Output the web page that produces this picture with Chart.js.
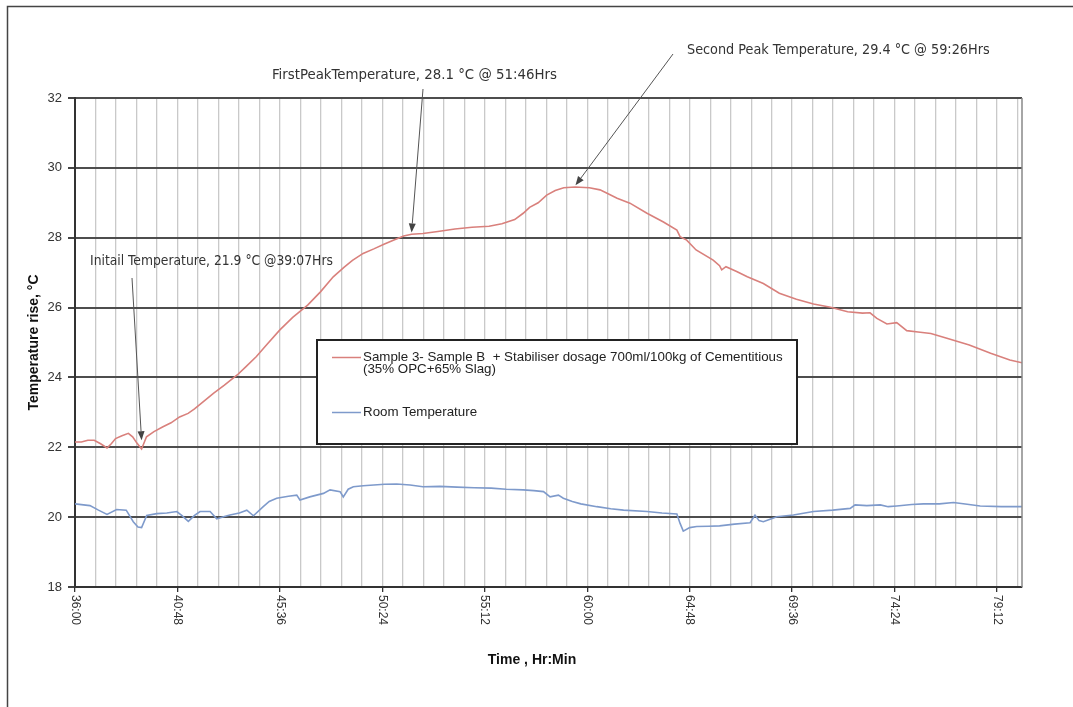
<!DOCTYPE html>
<html>
<head>
<meta charset="utf-8">
<script src="https://cdn.jsdelivr.net/npm/chart.js@4.4.1/dist/chart.umd.min.js"></script>
<style>
html,body{margin:0;padding:0;background:#fff;}
#wrap{width:1073px;height:707px;}
</style>
</head>
<body>
<div id="wrap"><canvas id="c" width="1073" height="707"></canvas></div>
<script>
// ---- data (time in hours, temperature in °C) ----
const sampleTime = [36.0,36.3,36.6,36.9,37.2,37.5,37.7,37.9,38.2,38.5,38.7,38.9,39.12,39.35,39.7,40.1,40.5,40.9,41.3,41.6,42.0,42.5,43.0,43.6,44.0,44.5,45.0,45.6,46.2,46.9,47.5,48.1,48.6,49.0,49.5,50.0,50.5,51.0,51.4,51.77,52.3,53.0,53.8,54.6,55.4,56.0,56.6,57.0,57.3,57.7,58.1,58.5,58.9,59.43,60.1,60.6,61.0,61.4,62.0,62.8,63.57,64.2,64.35,64.66,65.1,65.9,66.2,66.3,66.5,67.0,67.5,68.25,69.0,69.8,70.6,71.4,72.2,72.9,73.25,73.57,74.04,74.5,74.97,75.5,76.1,76.85,77.9,78.9,79.8,80.37];
const sampleTemp = [22.15,22.15,22.2,22.2,22.1,21.98,22.1,22.25,22.33,22.4,22.3,22.12,21.95,22.3,22.45,22.58,22.7,22.87,22.97,23.1,23.3,23.55,23.78,24.07,24.3,24.6,24.95,25.36,25.72,26.07,26.45,26.88,27.15,27.35,27.55,27.68,27.82,27.95,28.05,28.1,28.12,28.18,28.25,28.3,28.33,28.4,28.52,28.7,28.87,29.0,29.22,29.35,29.43,29.45,29.43,29.37,29.25,29.13,28.99,28.7,28.45,28.22,28.03,27.93,27.65,27.36,27.2,27.08,27.17,27.03,26.88,26.69,26.41,26.24,26.1,26.01,25.88,25.84,25.85,25.69,25.53,25.57,25.34,25.3,25.26,25.12,24.93,24.69,24.5,24.42];
const roomTime = [36.0,36.4,36.7,37.1,37.5,37.95,38.4,38.73,38.95,39.12,39.36,39.83,40.3,40.77,41.0,41.31,41.6,41.86,42.33,42.64,43.0,43.26,43.7,44.05,44.36,44.82,45.1,45.45,46.0,46.39,46.54,47.0,47.64,47.95,48.42,48.57,48.8,49.04,49.5,50.0,50.5,51.07,51.7,52.3,53.1,53.9,54.7,55.5,56.2,57.0,57.5,57.95,58.26,58.65,58.88,59.3,59.7,60.45,61.1,61.7,62.8,63.5,64.2,64.35,64.5,64.8,65.13,65.7,66.2,66.9,67.63,67.86,68.05,68.25,68.6,68.88,69.66,70.6,71.5,72.32,72.55,73.1,73.73,74.1,74.5,75.2,75.75,76.5,77.16,77.8,78.41,79.4,80.37];
const roomTemp = [20.38,20.35,20.33,20.2,20.08,20.22,20.2,19.87,19.72,19.7,20.05,20.1,20.12,20.16,20.05,19.88,20.05,20.16,20.16,19.95,20.02,20.06,20.12,20.2,20.04,20.3,20.45,20.54,20.6,20.63,20.49,20.58,20.68,20.78,20.73,20.58,20.8,20.87,20.9,20.92,20.94,20.95,20.92,20.87,20.88,20.86,20.84,20.83,20.8,20.78,20.76,20.73,20.58,20.63,20.54,20.45,20.38,20.3,20.24,20.2,20.16,20.12,20.09,19.82,19.6,19.7,19.73,19.74,19.75,19.8,19.84,20.06,19.9,19.87,19.95,20.01,20.06,20.16,20.2,20.25,20.35,20.33,20.35,20.3,20.32,20.36,20.38,20.38,20.42,20.37,20.32,20.3,20.3];

const sampleLabel = ['Sample 3- Sample B  + Stabiliser dosage 700ml/100kg of Cementitious', '(35% OPC+65% Slag)'];
const roomLabel = 'Room Temperature';

const xTickLabels = ['36:00','40:48','45:36','50:24','55:12','60:00','64:48','69:36','74:24','79:12'];
const xTickValues = [36, 40.8, 45.6, 50.4, 55.2, 60.0, 64.8, 69.6, 74.4, 79.2];
const xGridStep = 0.96;   // hours between vertical grid lines
const xMin = 36, xMax = 80.37;
const yTicks = [18, 20, 22, 24, 26, 28, 30, 32];

const annotations = [
  {text: 'Initail Temperature, 21.9 °C @39:07Hrs', tipT: 39.12, tipV: 22.2},
  {text: 'FirstPeakTemperature, 28.1 °C @ 51:46Hrs', tipT: 51.77, tipV: 28.15},
  {text: 'Second Peak Temperature, 29.4 °C @ 59:26Hrs', tipT: 59.45, tipV: 29.5}
];
// ---- layout / style ----
const annLayout = [
  {x: 90, y: 261, w: 243, tailX: 132, tailY: 278},
  {x: 272, y: 75, w: 285, tailX: 423, tailY: 89},
  {x: 687, y: 50, w: 303, tailX: 673, tailY: 54}
];
const RED = '#d9807c', BLUE = '#7e9acb';
const SANS = '"Liberation Sans", Arial, sans-serif';
const NARROW = '"Liberation Sans Narrow", "DejaVu Sans Condensed", sans-serif';

function fitSize(ctx, text, weight, family, base, targetW) {
  ctx.font = weight + ' ' + base + 'px ' + family;
  const w = ctx.measureText(text).width;
  let s = base * targetW / w;
  s = Math.max(base * 0.75, Math.min(base * 1.3, s));
  return s;
}

function arrow(ctx, x1, y1, x2, y2) {
  ctx.save();
  ctx.strokeStyle = '#555'; ctx.fillStyle = '#444'; ctx.lineWidth = 1;
  const a = Math.atan2(y2 - y1, x2 - x1);
  const L = 9, W = 3.5;
  const bx = x2 - L * Math.cos(a), by = y2 - L * Math.sin(a);
  ctx.beginPath(); ctx.moveTo(x1, y1); ctx.lineTo(bx, by); ctx.stroke();
  ctx.beginPath();
  ctx.moveTo(x2, y2);
  ctx.lineTo(bx + W * Math.sin(a), by - W * Math.cos(a));
  ctx.lineTo(bx - W * Math.sin(a), by + W * Math.cos(a));
  ctx.closePath(); ctx.fill();
  ctx.restore();
}

const deco = {
  id: 'deco',
  beforeDraw(chart) {
    const ctx = chart.ctx;
    ctx.save();
    ctx.fillStyle = '#fff'; ctx.fillRect(0, 0, chart.width, chart.height);
    ctx.strokeStyle = '#444'; ctx.lineWidth = 1.5;
    ctx.strokeRect(7.5, 6.5, 1200, 900);
    ctx.restore();
  },
  afterDatasetsDraw(chart) {
    const ctx = chart.ctx, xs = chart.scales.x, ys = chart.scales.y, ca = chart.chartArea;
    ctx.save();
    // right frame
    ctx.strokeStyle = '#888'; ctx.lineWidth = 1.5;
    ctx.beginPath(); ctx.moveTo(ca.right, ca.top); ctx.lineTo(ca.right, ca.bottom); ctx.stroke();

    // x tick labels (rotated clockwise)
    ctx.fillStyle = '#333';
    ctx.font = '12px ' + SANS;
    ctx.textAlign = 'left'; ctx.textBaseline = 'middle';
    xTickValues.forEach((v, i) => {
      const px = xs.getPixelForValue(v);
      ctx.save();
      ctx.translate(px, ca.bottom + 8);
      ctx.rotate(Math.PI / 2);
      ctx.fillText(xTickLabels[i], 0, 0);
      ctx.restore();
    });

    // x title
    ctx.fillStyle = '#111';
    ctx.font = 'bold 14px ' + SANS;
    ctx.textAlign = 'center';
    ctx.fillText('Time , Hr:Min', 532, 660);

    // legend box
    ctx.fillStyle = '#fff';
    ctx.fillRect(317, 340, 480, 104);
    ctx.strokeStyle = '#222'; ctx.lineWidth = 2;
    ctx.strokeRect(317, 340, 480, 104);
    const ds = chart.data.datasets;
    ctx.lineWidth = 1.5;
    ctx.strokeStyle = ds[0].borderColor;
    ctx.beginPath(); ctx.moveTo(332, 357.5); ctx.lineTo(361, 357.5); ctx.stroke();
    ctx.strokeStyle = ds[1].borderColor;
    ctx.beginPath(); ctx.moveTo(332, 412.5); ctx.lineTo(361, 412.5); ctx.stroke();
    ctx.fillStyle = '#222'; ctx.textAlign = 'left'; ctx.textBaseline = 'middle';
    const lines = ds[0].label;
    const fs = fitSize(ctx, lines[0], '', SANS, 12, 420);
    ctx.font = fs + 'px ' + SANS;
    ctx.fillText(lines[0], 363, 357);
    ctx.fillText(lines[1], 363, 369);
    ctx.fillText(ds[1].label, 363, 412);

    // annotations
    annotations.forEach((a, i) => {
      const L = annLayout[i];
      const s = fitSize(ctx, a.text, '', NARROW, 13, L.w);
      ctx.font = s + 'px ' + NARROW;
      ctx.fillStyle = '#333'; ctx.textAlign = 'left'; ctx.textBaseline = 'middle';
      ctx.fillText(a.text, L.x, L.y);
      arrow(ctx, L.tailX, L.tailY, xs.getPixelForValue(a.tipT), ys.getPixelForValue(a.tipV));
    });
    ctx.restore();
  }
};

new Chart(document.getElementById('c'), {
  type: 'line',
  data: {
    datasets: [
      {label: sampleLabel, data: sampleTime.map((t, i) => ({x: t, y: sampleTemp[i]})),
       borderColor: RED, borderWidth: 1.6, pointRadius: 0, tension: 0, fill: false},
      {label: roomLabel, data: roomTime.map((t, i) => ({x: t, y: roomTemp[i]})),
       borderColor: BLUE, borderWidth: 1.6, pointRadius: 0, tension: 0, fill: false}
    ]
  },
  options: {
    responsive: false,
    animation: false,
    layout: {padding: {top: 98, right: 51, left: 0, bottom: 0}},
    plugins: {legend: {display: false}, tooltip: {enabled: false}},
    scales: {
      x: {
        type: 'linear', min: xMin, max: xMax,
        afterBuildTicks(scale) {
          const t = [];
          for (let i = 0; xMin + i * xGridStep <= xMax + 1e-9; i++) t.push({value: +(xMin + i * xGridStep).toFixed(4)});
          scale.ticks = t;
        },
        afterFit(scale) { scale.height = 120; },
        ticks: {display: false},
        grid: {
          color: ctx => ctx.index === 0 ? 'rgba(0,0,0,0)' : '#c9c9c9',
          lineWidth: 1.3,
          drawTicks: true, tickLength: 5,
          tickColor: ctx => (ctx.index % 5 === 0) ? '#333' : 'rgba(0,0,0,0)'
        },
        border: {display: true, color: '#333', width: 2}
      },
      y: {
        min: 18, max: 32,
        afterBuildTicks(scale) { scale.ticks = yTicks.map(v => ({value: v})); },
        afterFit(scale) { scale.width = 75; },
        ticks: {color: '#333', font: {size: 13, family: SANS}, padding: 6},
        grid: {color: '#4d4d4d', lineWidth: 2, drawTicks: true, tickLength: 7, tickColor: '#444'},
        border: {display: true, color: '#333', width: 2},
        title: {display: true, text: 'Temperature rise, °C', color: '#111',
                font: {size: 14, weight: 'bold', family: SANS}, padding: {top: 26, bottom: 0}}
      }
    }
  },
  plugins: [deco]
});
</script>
</body>
</html>
